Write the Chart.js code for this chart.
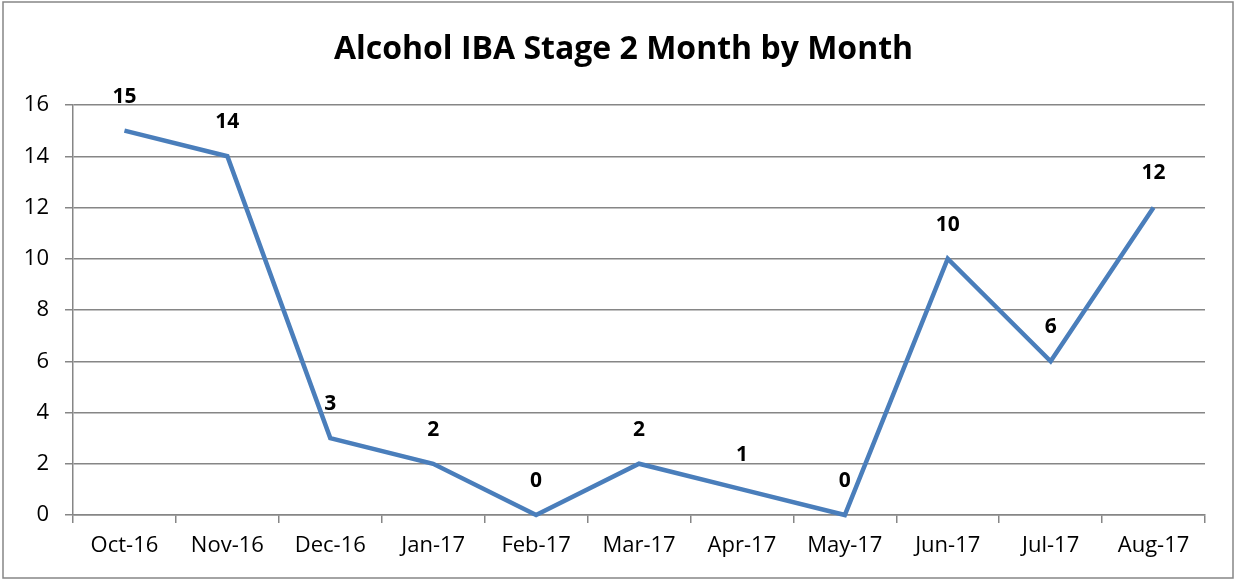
<!DOCTYPE html>
<html>
<head>
<meta charset="utf-8">
<script src="https://cdn.jsdelivr.net/npm/chart.js@4"></script>
<style>
  body { margin: 0; background: #fff; }
  #wrap { position: relative; width: 1235px; height: 580px; }
</style>
</head>
<body>
<div id="wrap"><canvas id="myChart" width="1235" height="580"></canvas></div>
<script>
// chart data
const months = ['Oct-16', 'Nov-16', 'Dec-16', 'Jan-17', 'Feb-17', 'Mar-17', 'Apr-17', 'May-17', 'Jun-17', 'Jul-17', 'Aug-17'];
const counts = [15, 14, 3, 2, 0, 2, 1, 0, 10, 6, 12];
const yMin = 0, yMax = 16, yStep = 2;
const chartTitle = 'Alcohol IBA Stage 2 Month by Month';

const fontName = '"Open Sans", Lato, sans-serif';

// frame around the whole chart + title centred on the whole frame
const frame = {
  id: 'frame',
  beforeDraw(chart) {
    const c = chart.ctx;
    c.save();
    c.strokeStyle = '#868686';
    c.lineWidth = 1.5;
    c.strokeRect(3, 2, chart.width - 5, chart.height - 4);
    c.font = 'bold 32px ' + fontName;
    c.fillStyle = '#000';
    c.textAlign = 'center';
    c.textBaseline = 'middle';
    c.fillText(chartTitle, chart.width / 2 + 6, 50);
    c.restore();
  }
};

// value labels above the points
const pointLabels = {
  id: 'pointLabels',
  afterDatasetsDraw(chart) {
    const c = chart.ctx;
    const meta = chart.getDatasetMeta(0);
    c.save();
    c.font = 'bold 21px ' + fontName;
    c.fillStyle = '#000';
    c.textAlign = 'center';
    c.textBaseline = 'middle';
    meta.data.forEach((pt, i) => {
      c.fillText(counts[i], pt.x, pt.y - 34);
    });
    c.restore();
  }
};

const ctx = document.getElementById('myChart').getContext('2d');
const myChart = new Chart(ctx, {
  type: 'line',
  data: {
    labels: months,
    datasets: [{
      data: counts,
      borderColor: '#4a7ebb',
      backgroundColor: 'transparent',
      borderWidth: 4.5,
      pointRadius: 0,
      tension: 0,
      clip: false
    }]
  },
  options: {
    responsive: false,
    animation: false,
    layout: { padding: { left: 0, right: 30, top: 105, bottom: 0 } },
    plugins: {
      legend: { display: false },
      tooltip: { enabled: false },
      title: { display: false }
    },
    scales: {
      x: {
        offset: true,
        grid: {
          offset: true,
          drawOnChartArea: false,
          drawTicks: true,
          tickLength: 8,
          color: '#868686',
          lineWidth: 1.5
        },
        border: { color: '#868686', width: 1.5 },
        ticks: { color: '#000', font: { family: fontName, size: 22 }, padding: 10, maxRotation: 0 },
        afterFit(s) { s.height = 65; }
      },
      y: {
        min: yMin,
        max: yMax,
        grid: { color: '#868686', lineWidth: 1.5, tickLength: 8 },
        border: { color: '#868686', width: 1.5 },
        ticks: { stepSize: yStep, color: '#000', font: { family: fontName, size: 22 }, padding: 16 },
        afterFit(s) { s.width = 73; }
      }
    }
  },
  plugins: [frame, pointLabels]
});
</script>
</body>
</html>
